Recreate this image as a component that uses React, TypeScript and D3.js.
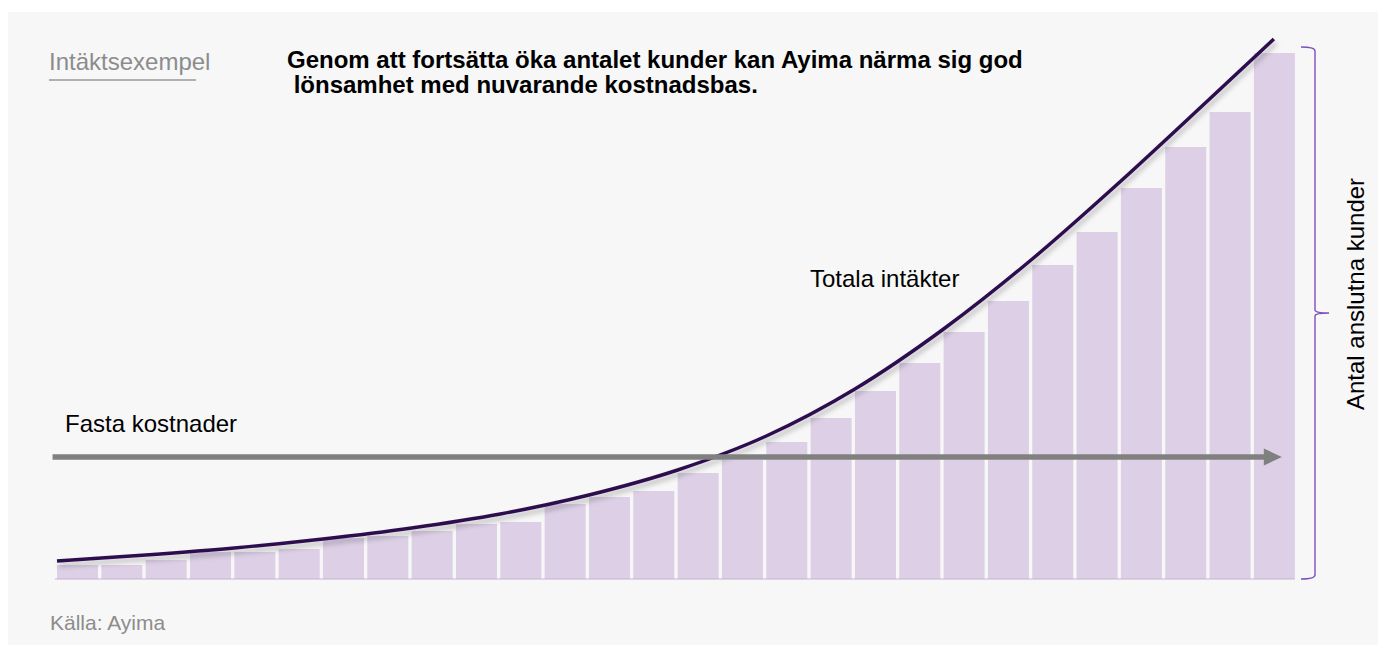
import React from 'react';
import * as d3 from 'd3';

// antal kunder per period (staplar)
const barValues = [14, 14, 19, 27, 27, 30, 41, 43, 48, 55, 57, 75, 82, 88, 106, 119, 137, 161, 188, 216, 247, 278, 314, 347, 391, 432, 467, 526];
// totala intäkter (kurva), position i stapelindex
const revenuePos = [0, 2, 4, 6, 8, 10, 12, 14, 16, 18, 20, 22, 24, 26, 27.45];
const revenueValues = [18, 24, 31, 40, 51, 65, 84, 109, 143, 190, 250, 320, 398, 480, 540];
const fixedCost = 122;
const arrowRange = [-0.1, 27.63];
const braceTop = 532;

const titleSmall = 'Intäktsexempel';
const headline = ['Genom att fortsätta öka antalet kunder kan Ayima närma sig god', ' lönsamhet med nuvarande kostnadsbas.'];
const labelFixed = 'Fasta kostnader';
const labelRevenue = 'Totala intäkter';
const axisLabel = 'Antal anslutna kunder';
const source = 'Källa: Ayima';

const W = 1378;
const H = 647;
const font = 'Arial, "Liberation Sans", Helvetica, sans-serif';

export default function App() {
  const x = d3.scaleLinear().domain([0, 28]).range([57, 57 + 44.33 * 28]);
  const y = d3.scaleLinear().domain([0, 540]).range([579, 39]);
  const step = x(1) - x(0);
  const bw = step * 0.925;

  const pts: [number, number][] = revenuePos.map((p, i) => [p, revenueValues[i]]);
  const revLine = d3.line<[number, number]>()
    .x(d => x(d[0]))
    .y(d => y(d[1]))
    .curve(d3.curveMonotoneX);

  const ay = y(fixedCost);
  const ax0 = x(arrowRange[0]);
  const ax1 = x(arrowRange[1]);
  const headLen = 18;

  const bx = 1315;
  const bTop = y(braceTop);
  const bBot = y(0);
  const bMid = (bTop + bBot) / 2;
  const brace = `M${bx - 14},${bTop} Q${bx},${bTop} ${bx},${bTop + 4} L${bx},${bMid - 3} Q${bx},${bMid} ${bx + 14},${bMid} Q${bx},${bMid} ${bx},${bMid + 3} L${bx},${bBot - 4} Q${bx},${bBot} ${bx - 14},${bBot}`;

  return (
    <div style={{ position: 'absolute', left: 0, top: 0 }}>
      <svg width={W} height={H} style={{ display: 'block', fontFamily: font }}>
        <defs>
          <filter id="shadow" x="-5%" y="-10%" width="110%" height="130%">
            <feDropShadow dx="2" dy="4" stdDeviation="2.5" floodColor="#000" floodOpacity="0.25" />
          </filter>
        </defs>
        <rect x={0} y={0} width={W} height={H} fill="#fff" />
        <rect x={8} y={12} width={W - 8} height={633} fill="#f7f7f7" />

        <text x={49} y={70} fontSize={24} fill="#8c8c8c">{titleSmall}</text>
        <line x1={49} x2={196} y1={80} y2={80} stroke="#999" strokeWidth={1.5} />
        {headline.map((t, i) => (
          <text key={i} x={287} y={68 + i * 25} fontSize={24} fontWeight="bold" fill="#000" style={{ whiteSpace: 'pre' }}>{t}</text>
        ))}

        <g>
          {barValues.map((v, i) => (
            <rect key={i} x={x(i)} y={y(v)} width={bw} height={y(0) - y(v)} fill="#dccfe6" />
          ))}
          <line x1={x(0) - 2} x2={x(27) + bw} y1={y(0)} y2={y(0)} stroke="#c3b4d3" strokeWidth={1} />
        </g>

        <path d={revLine(pts) || ''} fill="none" stroke="#2e0f50" strokeWidth={3.5} filter="url(#shadow)" />

        <line x1={ax0} x2={ax1 - headLen + 1} y1={ay} y2={ay} stroke="#808080" strokeWidth={5.5} />
        <polygon points={`${ax1 - headLen},${ay - 8.5} ${ax1},${ay} ${ax1 - headLen},${ay + 8.5}`} fill="#808080" />

        <text x={65} y={432} fontSize={24} fill="#000">{labelFixed}</text>
        <text x={810} y={287} fontSize={24} fill="#000">{labelRevenue}</text>

        <path d={brace} fill="none" stroke="#7e4fbd" strokeWidth={1.4} />
        <text transform={`translate(1364,${bMid - 19}) rotate(-90)`} textAnchor="middle" fontSize={24} fill="#000">{axisLabel}</text>

        <text x={50} y={630} fontSize={21} fill="#8c8c8c">{source}</text>
      </svg>
    </div>
  );
}
